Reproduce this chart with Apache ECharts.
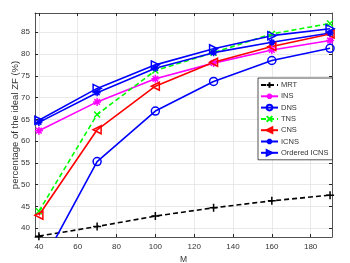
<!DOCTYPE html>
<html><head><meta charset="utf-8">
<script src="https://cdn.jsdelivr.net/npm/echarts@6/dist/echarts.min.js"></script>
<style>html,body{margin:0;padding:0;background:#fff}#c{width:350px;height:263px}</style>
</head><body><div id="c"></div>
<script>
var M = [40, 70, 100, 130, 160, 190];
var MRT = [38.2, 40.4, 42.8, 44.7, 46.3, 47.6];
var INS = [62.4, 69.0, 74.3, 77.9, 80.9, 83.1];
var DNS = [30.6, 55.3, 66.9, 73.7, 78.5, 81.3];
var TNS = [43.9, 66.1, 76.2, 80.3, 84.6, 87.0];
var CNS = [43.0, 62.6, 72.6, 78.1, 81.7, 84.6];
var ICNS = [64.3, 71.1, 76.7, 80.3, 82.7, 84.8];
var OICNS = [64.8, 72.1, 77.5, 81.2, 84.2, 85.8];
var xTicks = [40, 60, 80, 100, 120, 140, 160, 180];
var yTicks = [40, 45, 50, 55, 60, 65, 70, 75, 80, 85];
var seriesNames = ['MRT', 'INS', 'DNS', 'TNS', 'CNS', 'ICNS', 'Ordered ICNS'];

var SYM = {
  plus: 'path://M0,-1L0,1M-1,0L1,0',
  cross: 'path://M-1,-1L1,1M-1,1L1,-1',
  star: 'path://M0,-1L0,1M-1,0L1,0M-0.7,-0.7L0.7,0.7M-0.7,0.7L0.7,-0.7',
  triL: 'path://M-1,0L1,-1L1,1Z',
  triR: 'path://M1,0L-1,-1L-1,1Z'
};
function pairs(ys){ return M.map(function(x,i){return [x, ys[i]];}); }
function mk(name, ys, color, dashed, symbol, size, fill){
  return {
    name: name, type: 'line', data: pairs(ys), clip: true,
    symbol: symbol, symbolSize: size, symbolKeepAspect: true,
    lineStyle: {color: color, width: 1.6, type: dashed ? [5, 3] : 'solid'},
    itemStyle: {color: fill || 'rgba(0,0,0,0)', borderColor: color, borderWidth: 1.5},
    emphasis: {disabled: true}, z: 3
  };
}
var axisCol = '#262626';
var chart = echarts.init(document.getElementById('c'), null, {renderer: 'canvas'});
chart.setOption({
  animation: false,
  textStyle: {fontFamily: 'Liberation Sans, Arial, sans-serif'},
  grid: {left: 35, right: 18, top: 13, bottom: 26, containLabel: false, outerBoundsMode: 'none'},
  xAxis: [{
    type: 'value', min: 38, max: 191, name: 'M', nameLocation: 'middle', nameGap: 18,
    nameMoveOverlap: false,
    nameTextStyle: {color: '#333', fontSize: 8.5},
    axisLine: {lineStyle: {color: axisCol, width: 0.8}},
    axisTick: {inside: true, length: 3, customValues: xTicks, lineStyle: {color: axisCol}},
    axisLabel: {customValues: xTicks, color: '#333', fontSize: 8, margin: 6},
    splitLine: {show: true, lineStyle: {color: '#e3e3e3', width: 0.8}}
  }, {
    type: 'value', position: 'top', min: 38, max: 191,
    axisLine: {show: true, lineStyle: {color: axisCol, width: 0.8}},
    axisTick: {show: true, inside: true, length: 3, customValues: xTicks, lineStyle: {color: axisCol}},
    axisLabel: {show: false, customValues: xTicks}, splitLine: {show: false}
  }],
  yAxis: [{
    type: 'value', min: 38, max: 89.4, name: 'percentage of the ideal ZF (%)',
    nameLocation: 'middle', nameGap: 15, nameMoveOverlap: false,
    nameTextStyle: {color: '#333', fontSize: 9.5},
    axisLine: {show: true, lineStyle: {color: axisCol, width: 0.8}},
    axisTick: {show: true, inside: true, length: 3, customValues: yTicks, lineStyle: {color: axisCol}},
    axisLabel: {customValues: yTicks, color: '#333', fontSize: 8, margin: 5},
    splitLine: {show: true, lineStyle: {color: '#e3e3e3', width: 0.8}}
  }, {
    type: 'value', position: 'right', min: 38, max: 89.4,
    axisLine: {show: true, lineStyle: {color: axisCol, width: 0.8}},
    axisTick: {show: true, inside: true, length: 3, customValues: yTicks, lineStyle: {color: axisCol}},
    axisLabel: {show: false, customValues: yTicks}, splitLine: {show: false}
  }],
  legend: {
    data: seriesNames, orient: 'vertical', left: 258, top: 78,
    itemWidth: 17, itemHeight: 7, itemGap: 3.3, padding: [3, 4, 3, 2],
    backgroundColor: '#fff', borderColor: axisCol, borderWidth: 0.8, borderRadius: 0,
    textStyle: {fontSize: 7.5, color: '#333', padding: [0, 0, 0, -2]},
    selectedMode: false
  },
  series: [
    mk('MRT', MRT, '#000000', true, SYM.plus, 8),
    mk('INS', INS, '#ff00ff', false, SYM.star, 8),
    mk('DNS', DNS, '#0000ff', false, 'circle', 8),
    mk('TNS', TNS, '#00ff00', true, SYM.cross, 6),
    mk('CNS', CNS, '#ff0000', false, SYM.triL, 8),
    mk('ICNS', ICNS, '#0000ff', false, SYM.star, 7),
    mk('Ordered ICNS', OICNS, '#0000ff', false, SYM.triR, 8)
  ]
});
</script></body></html>
